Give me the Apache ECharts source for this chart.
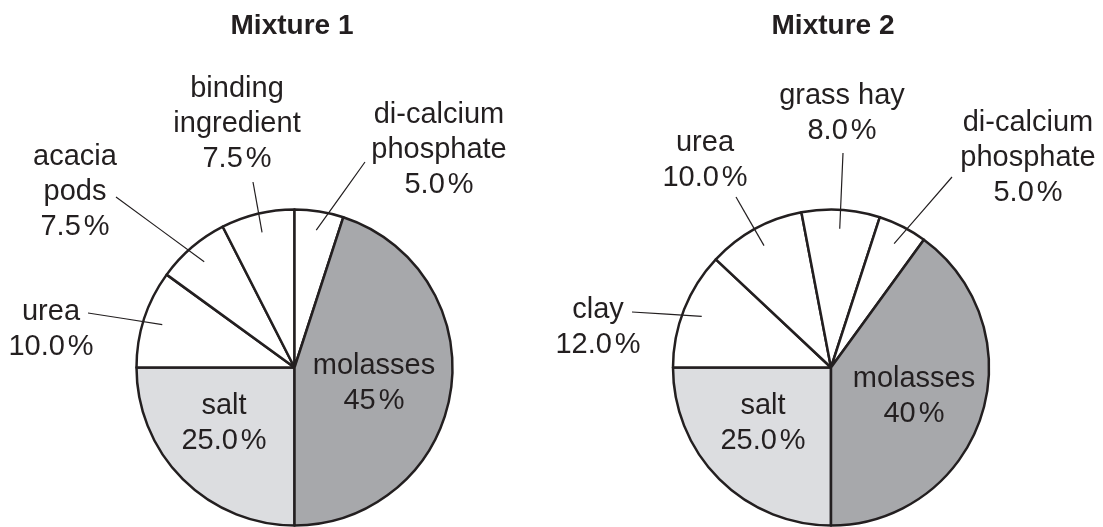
<!DOCTYPE html>
<html>
<head>
<meta charset="utf-8">
<title>Mixture 1 / Mixture 2</title>
<script src="https://cdn.jsdelivr.net/npm/echarts@6/dist/echarts.min.js"></script>
<style>
  html, body { margin: 0; padding: 0; background: #fff; }
  #chart { width: 1103px; height: 527px; }
</style>
</head>
<body>
<div id="chart"></div>
<script>
// slices are listed clockwise, starting at the bottom of each pie
const titles = ['Mixture 1', 'Mixture 2']
const names1 = ['salt', 'urea', 'acacia\npods', 'binding\ningredient', 'di-calcium\nphosphate', 'molasses']
const values1 = [25.0, 10.0, 7.5, 7.5, 5.0, 45]
const digits1 = [1, 1, 1, 1, 1, 0] // molasses is printed without decimals
const names2 = ['salt', 'clay', 'urea', 'grass hay', 'di-calcium\nphosphate', 'molasses']
const values2 = [25.0, 12.0, 10.0, 8.0, 5.0, 40]
const digits2 = [1, 1, 1, 1, 1, 0]

// look
const ink = '#231f20'
const font = 'Liberation Sans, Arial, Helvetica, sans-serif'
const fills = ['#dcdde0', '#ffffff', '#ffffff', '#ffffff', '#ffffff', '#a7a8ab']
const pieCenters = [[294.5, 367.5], [831, 367.5]]
const pieRadius = 158
const titleX = [292, 833]

// where each label block is centred and where its leader line ends (null = label inside the slice)
const labelSpots1 = [[224, 423], [51, 329], [75, 192], [237, 124], [439, 150], [374, 383]]
const lineEnds1 = [null, [88, 313], [116, 197], [253, 182], [365, 162], null]
const labelSpots2 = [[763, 423], [598, 327], [705, 160], [842, 113], [1028, 158], [914, 396]]
const lineEnds2 = [null, [632, 312], [736, 197], [843, 153], [952, 177], null]

// direction of a slice's middle, measured clockwise from the bottom
function midDir (values, i) {
  const total = values.reduce((a, b) => a + b, 0)
  let before = 0
  for (let k = 0; k < i; k++) before += values[k]
  const theta = (before + values[i] / 2) / total * 2 * Math.PI
  return [-Math.sin(theta), Math.cos(theta)]
}

// the filled slices, no text
function slicesSeries (idx, names, values) {
  return {
    type: 'pie',
    center: pieCenters[idx],
    radius: pieRadius,
    startAngle: -90,
    clockwise: true,
    animation: false,
    z: 2,
    emphasis: { disabled: true },
    itemStyle: { borderColor: ink, borderWidth: 2.5 },
    label: { show: false },
    labelLine: { show: false },
    data: names.map((n, i) => ({ name: n, value: values[i], itemStyle: { color: fills[i] } }))
  }
}

// same pie again, see-through, on top: carries the labels so the
// leader lines are not hidden under the slices
function labelSeries (idx, names, values, digits, spots, ends) {
  const cx = pieCenters[idx][0]
  const cy = pieCenters[idx][1]
  return {
    type: 'pie',
    center: pieCenters[idx],
    radius: pieRadius,
    startAngle: -90,
    clockwise: true,
    avoidLabelOverlap: false,
    animation: false,
    silent: true,
    z: 3,
    emphasis: { disabled: true },
    itemStyle: { color: 'rgba(0,0,0,0)', borderWidth: 0 },
    label: {
      color: ink,
      fontFamily: font,
      fontSize: 29,
      lineHeight: 35,
      formatter: (p) => p.name + '\n' + values[p.dataIndex].toFixed(digits[p.dataIndex]) + '{pct|%}',
      rich: {
        // small gap before the percent sign
        pct: { color: ink, fontFamily: font, fontSize: 29, lineHeight: 35, padding: [0, 0, 0, 3] }
      }
    },
    labelLine: { show: true, lineStyle: { color: ink, width: 1.2 } },
    data: names.map((n, i) => ({
      name: n,
      value: values[i],
      label: { position: ends[i] ? 'outside' : 'inside' },
      labelLine: { show: !!ends[i] }
    })),
    labelLayout: (p) => {
      const i = p.dataIndex
      const out = { x: spots[i][0], y: spots[i][1], align: 'center', verticalAlign: 'middle', hideOverlap: false }
      if (ends[i]) {
        // leader line starts inside the slice, along its middle
        const d = midDir(values, i)
        const start = [cx + d[0] * pieRadius * 0.88, cy + d[1] * pieRadius * 0.88]
        const end = ends[i]
        out.labelLinePoints = [start, [(start[0] + end[0]) / 2, (start[1] + end[1]) / 2], end]
      }
      return out
    }
  }
}

const chart = echarts.init(document.getElementById('chart'), null, { renderer: 'canvas' })
chart.setOption({
  backgroundColor: '#ffffff',
  animation: false,
  title: titles.map((t, i) => ({
    text: t,
    left: titleX[i],
    top: 12,
    padding: 0,
    textAlign: 'center',
    textStyle: { fontFamily: font, fontSize: 28, fontWeight: 'bold', color: ink, lineHeight: 28 }
  })),
  series: [
    slicesSeries(0, names1, values1),
    slicesSeries(1, names2, values2),
    labelSeries(0, names1, values1, digits1, labelSpots1, lineEnds1),
    labelSeries(1, names2, values2, digits2, labelSpots2, lineEnds2)
  ]
})
</script>
</body>
</html>
